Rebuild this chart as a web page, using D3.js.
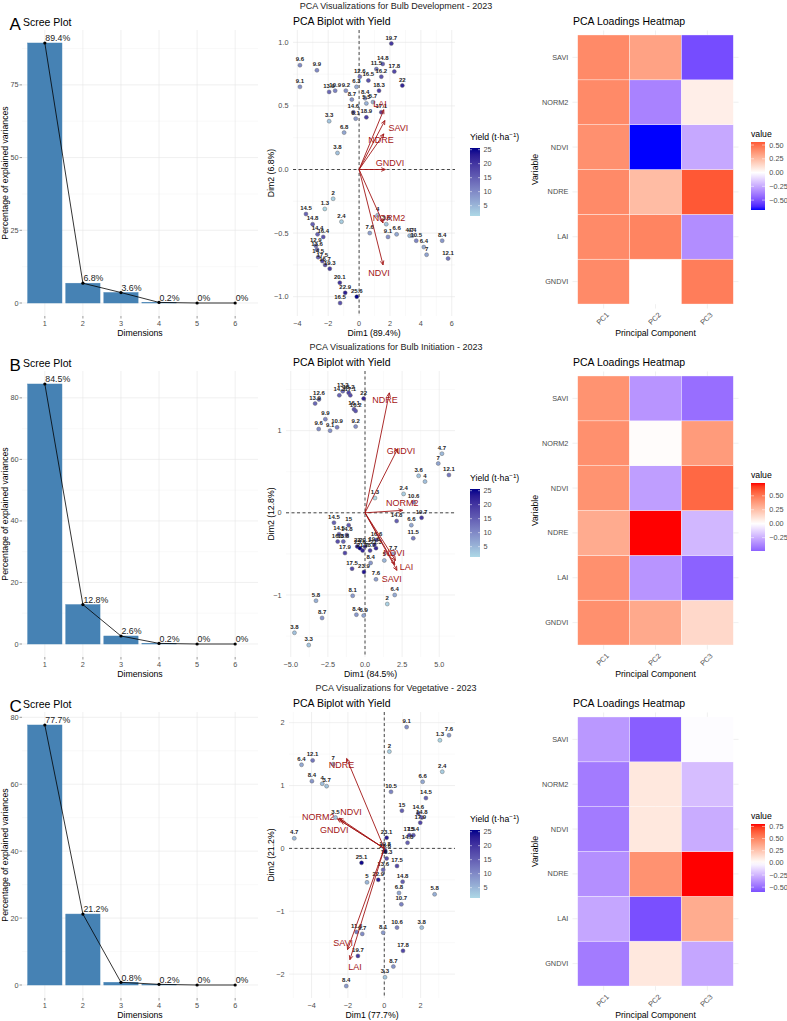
<!DOCTYPE html>
<html lang="en">
<head>
<meta charset="UTF-8">
<title>PCA Visualizations - 2023</title>
<script src="https://d3js.org/d3.v7.min.js"></script>
<style>
  body { margin: 0; background: #fff; }
  svg { display: block; font-family: "Liberation Sans", Arial, sans-serif; }
  .tick-label { fill: #4d4d4d; font-size: 7.3px; }
  .axis-title { fill: #000; font-size: 8.7px; }
  .panel-title { fill: #000; font-size: 10.5px; }
  .grid-major { stroke: #e6e6e6; stroke-width: 0.6; }
  .grid-minor { stroke: #f0f0f0; stroke-width: 0.4; }
</style>
</head>
<body>
<svg id="fig" width="787" height="1021"></svg>
<script>
// ---- data ----
const stageNames = ["Bulb Development", "Bulb Initiation", "Vegetative"];
const panelLetters = ["A", "B", "C"];
const dimensions = [1, 2, 3, 4, 5, 6];
const components = ["PC1", "PC2", "PC3"];
const variables = ["GNDVI", "LAI", "NDRE", "NDVI", "NORM2", "SAVI"]; // bottom -> top

// explained variance (%)
const screeBulbDev = [89.4, 6.8, 3.6, 0.2, 0, 0];
const screeBulbInit = [84.5, 12.8, 2.6, 0.2, 0, 0];
const screeVeg = [77.7, 21.2, 0.8, 0.2, 0, 0];
const screeTicksBulbDev = [0, 25, 50, 75];
const screeTicksOther = [0, 20, 40, 60, 80];

// individuals: [Dim1, Dim2, yield]
const scoresBulbDev = [
  [2.09,0.99,19.7],[-3.83,0.82,9.6],[-2.73,0.78,9.9],[1.53,0.83,14.8],[1.12,0.79,11.5],
  [2.28,0.77,17.8],[1.44,0.73,16.2],[0.6,0.70,16.5],[0.05,0.73,12.6],[-0.17,0.65,6.3],
  [-3.83,0.65,9.1],[-1.94,0.61,13.9],[-1.55,0.62,10.9],[-0.86,0.62,9.2],[1.29,0.62,18.3],
  [2.8,0.66,22],[-0.47,0.55,8.7],[0.39,0.56,8.4],[0.47,0.52,5.5],[0.9,0.53,5.7],
  [-0.37,0.45,14.6],[1.44,0.45,17.1],[-0.22,0.40,8.1],[0.47,0.41,18.9],[-1.94,0.38,3.3],
  [-0.97,0.29,6.8],[-1.4,0.13,3.8],[-1.68,-0.23,2],[-2.22,-0.31,1.3],[-1.14,-0.41,2.4],
  [-3.44,-0.35,14.5],[-3.01,-0.43,14.8],[-2.69,-0.51,14.4],[-2.32,-0.53,16.4],[-2.8,-0.60,12.9],
  [-2.72,-0.63,13.6],[-2.65,-0.69,14.5],[-2.38,-0.72,17.5],[-2.2,-0.75,16.7],[-1.9,-0.78,19.3],
  [-1.25,-0.89,20.1],[-0.9,-0.97,22.9],[-1.23,-1.05,16.5],[-0.15,-1.0,25.6],[1.2,-0.36,4],
  [1.76,-0.43,3.6],[0.69,-0.50,7.6],[1.87,-0.53,9.1],[2.43,-0.51,6.6],[3.27,-0.52,4.7],
  [3.44,-0.52,4.4],[3.7,-0.56,10.5],[5.38,-0.56,8.4],[4.19,-0.61,6.4],[4.37,-0.67,7],
  [5.76,-0.70,12.1]
];
const scoresBulbInit = [
  [-1.1,1.46,18.2],[-1.5,1.48,13.2],[-1.73,1.43,14.3],[-0.99,1.43,17.1],[-0.09,1.39,22],
  [-3.1,1.38,12.6],[-3.36,1.33,13.9],[-0.74,1.26,16.1],[-0.63,1.24,16.2],[-2.67,1.14,9.9],
  [-3.12,1.02,9.6],[-1.88,1.04,10.9],[-2.35,1.0,9.1],[-0.63,1.05,9.2],[5.18,0.72,4.7],
  [4.93,0.60,7],[5.65,0.46,12.1],[3.61,0.45,3.6],[4.04,0.38,4],[0.67,0.18,1.3],
  [2.6,0.23,2.4],[3.27,0.13,10.6],[3.81,-0.06,19.7],[2.13,-0.10,14.8],[3.12,-0.15,6.6],
  [3.25,-0.31,11.5],[-2.09,-0.12,14.5],[-1.1,-0.15,15],[-1.75,-0.26,14.5],[-1.23,-0.27,14.8],
  [-1.84,-0.35,16.8],[-1.46,-0.35,13.8],[-1.35,-0.49,17.9],[-0.52,-0.41,23],[-0.34,-0.43,25.6],
  [-0.16,-0.46,21.7],[0.0,-0.41,20.1],[0.34,-0.46,18.7],[0.63,-0.39,19.6],[0.78,-0.33,16.6],
  [0.74,-0.43,21.3],[0.38,-0.61,8.4],[1.3,-0.58,5],[1.9,-0.5,7.7],[-0.87,-0.68,17.5],
  [-0.07,-0.72,23.9],[0.74,-0.81,7.6],[2.0,-1.0,6.4],[1.5,-1.11,2],[-0.83,-1.01,8.1],
  [-3.3,-1.07,5.8],[-2.89,-1.28,8.7],[-0.58,-1.24,8.4],[-0.09,-1.25,6.9],[-4.75,-1.46,3.8],
  [-3.79,-1.61,3.3]
];
const scoresVeg = [
  [1.23,1.93,9.1],[3.56,1.80,7.6],[3.06,1.72,1.3],[0.28,1.54,2],[3.19,1.22,2.4],
  [-4.55,1.33,6.4],[-3.94,1.40,12.1],[-2.81,1.34,7],[-3.98,1.07,8.4],[-3.41,1.03,4],
  [-3.17,0.99,3.7],[2.11,1.06,6.6],[0.37,0.90,10.5],[2.29,0.80,14.5],[0.97,0.60,15],
  [1.87,0.56,14.6],[2.06,0.49,14.8],[1.98,0.41,17.9],[-2.68,0.49,3.5],[-4.95,0.16,4.7],
  [1.38,0.21,17.5],[1.6,0.21,15.4],[1.28,0.09,14.8],[0.13,0.17,23.1],[0.04,-0.03,19.8],
  [0.13,-0.16,16.3],[0.05,-0.05,25.6],[-1.25,-0.23,25.1],[0.70,-0.28,17.5],[-0.06,-0.34,13.6],
  [-0.33,-0.50,22.9],[1.01,-0.53,14.8],[-0.95,-0.54,5],[0.81,-0.71,6.8],[2.77,-0.73,5.8],
  [0.94,-0.89,10.7],[0.70,-1.26,10.6],[2.06,-1.26,3.8],[-0.06,-1.34,8.1],[-1.52,-1.33,11.6],
  [-1.21,-1.36,9.7],[1.03,-1.63,17.8],[-1.45,-1.71,19.7],[0.50,-1.88,8.7],[0.04,-2.05,3.3],
  [-2.09,-2.19,8.4]
];

// variable arrows: [name, tipDim1, tipDim2, labelDim1, labelDim2]
const arrowsBulbDev = [
  ["LAI",1.6,0.47,1.35,0.52],["SAVI",1.67,0.385,2.54,0.33],["NDRE",1.6,0.28,1.42,0.23],
  ["GNDVI",1.7,0.0,2.0,0.05],["NORM2",1.55,-0.42,1.94,-0.38],["NDVI",1.55,-0.75,1.29,-0.81]
];
const arrowsBulbInit = [
  ["NDRE",1.64,1.46,1.35,1.37],["GNDVI",2.2,0.78,2.42,0.76],["NORM2",2.53,0.03,2.51,0.12],
  ["NDVI",2.05,-0.58,1.95,-0.49],["LAI",2.15,-0.70,2.79,-0.66],["SAVI",2.0,-0.63,1.80,-0.80]
];
const arrowsVeg = [
  ["NDRE",-2.07,1.43,-2.35,1.33],["NDVI",-2.48,0.48,-1.83,0.58],["NORM2",-2.57,0.47,-3.63,0.50],
  ["GNDVI",-2.39,0.44,-2.75,0.30],["SAVI",-2.02,-1.61,-2.26,-1.51],["LAI",-1.89,-1.77,-1.61,-1.88]
];

// loadings, rows in `variables` order, columns PC1..PC3
const loadingsBulbDev = [
  [0.41, 0.00, 0.45],   // GNDVI
  [0.41, 0.43, -0.33],  // LAI
  [0.41, 0.24, 0.555],  // NDRE
  [0.39, -0.68, -0.25], // NDVI
  [0.41, -0.36, 0.06],  // NORM2
  [0.41, 0.33, -0.52]   // SAVI
];
const loadingsBulbInit = [
  [0.42, 0.33, 0.15],
  [0.42, -0.33, -0.49],
  [0.32, 0.73, -0.22],
  [0.41, -0.30, 0.55],
  [0.42, 0.01, 0.38],
  [0.41, -0.33, -0.45]
];
const loadingsVeg = [
  [-0.45, 0.10, -0.30],
  [-0.30, -0.60, 0.35],
  [-0.38, 0.45, 0.80],
  [-0.45, 0.10, -0.28],
  [-0.45, 0.10, -0.22],
  [-0.35, -0.55, -0.01]
];

// ---- layout ----
const svg = d3.select("#fig");
const rowOffsets = [0, 341, 682];
const FONT = "'Liberation Sans', Arial, sans-serif";
const arrowColor = "#a31515";

const stages = [
  { scree: screeBulbDev, screeTicks: screeTicksBulbDev, scores: scoresBulbDev, arrows: arrowsBulbDev,
    loadings: loadingsBulbDev, xDom: [-4.28, 6.21], yDom: [-1.152, 1.097], left: 293,
    xTicks: [-4, -2, 0, 2, 4, 6], yTicks: [-1, -0.5, 0, 0.5, 1], xFmt: d3.format("d"), yFmt: d3.format(".1f") },
  { scree: screeBulbInit, screeTicks: screeTicksOther, scores: scoresBulbInit, arrows: arrowsBulbInit,
    loadings: loadingsBulbInit, xDom: [-5.32, 6.06], yDom: [-1.755, 1.726], left: 286,
    xTicks: [-5, -2.5, 0, 2.5, 5], yTicks: [-1, 0, 1], xFmt: d3.format(".1f"), yFmt: d3.format("d") },
  { scree: screeVeg, screeTicks: screeTicksOther, scores: scoresVeg, arrows: arrowsVeg,
    loadings: loadingsVeg, xDom: [-5.24, 3.89], yDom: [-2.38, 2.17], left: 289,
    xTicks: [-4, -2, 0, 2], yTicks: [-2, -1, 0, 1, 2], xFmt: d3.format("d"), yFmt: d3.format("d") }
];

function minors(ticks, dom) {
  const step = ticks[1] - ticks[0];
  const out = [];
  for (let v = ticks[0] - step / 2; v <= ticks[ticks.length - 1] + step / 2 + 1e-9; v += step) {
    if (v >= dom[0] && v <= dom[1]) out.push(v);
  }
  return out;
}

function drawScree(g, values, yTicks) {
  const M = d3.max(values);
  const x = d3.scaleBand().domain(dimensions).range([22, 258]).paddingInner(0.1).paddingOuter(0.15);
  const y = d3.scaleLinear().domain([-0.05 * M, 1.05 * M]).range([316, 30]);
  const cx = d => x(d) + x.bandwidth() / 2;

  g.selectAll(null).data(minors(yTicks, y.domain())).join("line").attr("class", "grid-minor")
    .attr("x1", 22).attr("x2", 258).attr("y1", d => y(d)).attr("y2", d => y(d));
  g.selectAll(null).data(yTicks).join("line").attr("class", "grid-major")
    .attr("x1", 22).attr("x2", 258).attr("y1", d => y(d)).attr("y2", d => y(d));
  g.selectAll(null).data(dimensions).join("line").attr("class", "grid-major")
    .attr("x1", cx).attr("x2", cx).attr("y1", 30).attr("y2", 316);

  g.selectAll(null).data(values).join("rect")
    .attr("x", (d, i) => x(dimensions[i])).attr("width", x.bandwidth())
    .attr("y", d => y(d)).attr("height", d => y(0) - y(d))
    .attr("fill", "steelblue").attr("stroke", "steelblue").attr("stroke-width", 0.5);

  const line = d3.line().x((d, i) => cx(dimensions[i])).y(d => y(d));
  g.append("path").datum(values).attr("d", line).attr("fill", "none")
    .attr("stroke", "#000").attr("stroke-width", 0.8);
  g.selectAll(null).data(values).join("circle")
    .attr("cx", (d, i) => cx(dimensions[i])).attr("cy", d => y(d)).attr("r", 1.6).attr("fill", "#000");
  g.selectAll(null).data(values).join("text")
    .attr("x", (d, i) => cx(dimensions[i]) + 0.5).attr("y", d => y(d) - 1.8)
    .attr("font-size", 8.8).attr("fill", "#222").text(d => d + "%");

  // axes
  g.selectAll(null).data(yTicks).join("line")
    .attr("x1", 19.5).attr("x2", 22).attr("y1", d => y(d)).attr("y2", d => y(d))
    .attr("stroke", "#333").attr("stroke-width", 0.5);
  g.selectAll(null).data(yTicks).join("text").attr("class", "tick-label")
    .attr("x", 18.5).attr("y", d => y(d)).attr("dy", "0.35em").attr("text-anchor", "end").text(d => d);
  g.selectAll(null).data(dimensions).join("line")
    .attr("x1", cx).attr("x2", cx).attr("y1", 316).attr("y2", 318.5)
    .attr("stroke", "#333").attr("stroke-width", 0.5);
  g.selectAll(null).data(dimensions).join("text").attr("class", "tick-label")
    .attr("x", cx).attr("y", 326).attr("text-anchor", "middle").text(d => d);
  g.append("text").attr("class", "axis-title").attr("x", 140).attr("y", 336)
    .attr("text-anchor", "middle").text("Dimensions");
  g.append("text").attr("class", "axis-title").attr("transform", "translate(7.8,173) rotate(-90)")
    .attr("text-anchor", "middle").text("Percentage of explained variances");
}

function drawBiplot(g, st, idx) {
  const x = d3.scaleLinear().domain(st.xDom).range([st.left, 455]);
  const y = d3.scaleLinear().domain(st.yDom).range([316, 30]);
  const yields = st.scores.map(d => d[2]);
  const col = d3.scaleLinear().domain(d3.extent(yields)).range(["lightblue", "darkblue"])
    .interpolate(d3.interpolateLab);

  g.selectAll(null).data(minors(st.xTicks, st.xDom)).join("line").attr("class", "grid-minor")
    .attr("x1", d => x(d)).attr("x2", d => x(d)).attr("y1", 30).attr("y2", 316);
  g.selectAll(null).data(minors(st.yTicks, st.yDom)).join("line").attr("class", "grid-minor")
    .attr("x1", st.left).attr("x2", 455).attr("y1", d => y(d)).attr("y2", d => y(d));
  g.selectAll(null).data(st.xTicks).join("line").attr("class", "grid-major")
    .attr("x1", d => x(d)).attr("x2", d => x(d)).attr("y1", 30).attr("y2", 316);
  g.selectAll(null).data(st.yTicks).join("line").attr("class", "grid-major")
    .attr("x1", st.left).attr("x2", 455).attr("y1", d => y(d)).attr("y2", d => y(d));

  g.append("line").attr("x1", st.left).attr("x2", 455).attr("y1", y(0)).attr("y2", y(0))
    .attr("stroke", "#333").attr("stroke-width", 0.9).attr("stroke-dasharray", "3,2.5");
  g.append("line").attr("x1", x(0)).attr("x2", x(0)).attr("y1", 30).attr("y2", 316)
    .attr("stroke", "#333").attr("stroke-width", 0.9).attr("stroke-dasharray", "3,2.5");

  g.selectAll(null).data(st.scores).join("circle")
    .attr("cx", d => x(d[0])).attr("cy", d => y(d[1])).attr("r", 2)
    .attr("fill", d => col(d[2])).attr("stroke", "#666").attr("stroke-width", 0.45);
  g.selectAll(null).data(st.scores).join("text")
    .attr("x", d => x(d[0])).attr("y", d => y(d[1]) - 4).attr("text-anchor", "middle")
    .attr("font-size", 6).attr("font-weight", "bold").attr("fill", "#222").text(d => d[2]);

  // arrows
  const ah = 4.5, aa = Math.PI / 7.5;
  st.arrows.forEach(a => {
    const x0 = x(0), y0 = y(0), x1 = x(a[1]), y1 = y(a[2]);
    const ang = Math.atan2(y1 - y0, x1 - x0);
    g.append("line").attr("x1", x0).attr("y1", y0).attr("x2", x1).attr("y2", y1)
      .attr("stroke", arrowColor).attr("stroke-width", 0.9);
    const p1 = [x1 - ah * Math.cos(ang - aa), y1 - ah * Math.sin(ang - aa)];
    const p2 = [x1 - ah * Math.cos(ang + aa), y1 - ah * Math.sin(ang + aa)];
    g.append("path").attr("d", `M${p1}L${x1},${y1}L${p2}`).attr("fill", "none")
      .attr("stroke", arrowColor).attr("stroke-width", 0.9);
    g.append("text").attr("x", x(a[3])).attr("y", y(a[4])).attr("dy", "0.35em")
      .attr("text-anchor", "middle").attr("font-size", 9).attr("fill", arrowColor).text(a[0]);
  });

  // axes text
  g.selectAll(null).data(st.xTicks).join("text").attr("class", "tick-label")
    .attr("x", d => x(d)).attr("y", 325.5).attr("text-anchor", "middle").text(d => st.xFmt(d));
  g.selectAll(null).data(st.yTicks).join("text").attr("class", "tick-label")
    .attr("x", st.left - 4.5).attr("y", d => y(d)).attr("dy", "0.35em").attr("text-anchor", "end")
    .text(d => st.yFmt(d));
  g.append("text").attr("class", "axis-title").attr("x", (st.left + 455) / 2).attr("y", 336)
    .attr("text-anchor", "middle").text(`Dim1 (${st.scree[0]}%)`);
  g.append("text").attr("class", "axis-title").attr("transform", "translate(273.5,173) rotate(-90)")
    .attr("text-anchor", "middle").text(`Dim2 (${st.scree[1]}%)`);
  g.append("text").attr("class", "panel-title").attr("x", 293).attr("y", 24.5).text("PCA Biplot with Yield");

  // yield legend
  const ly = d3.scaleLinear().domain(col.domain()).range([216, 148]);
  const gid = "yieldGrad" + idx;
  const grad = svg.append("defs").append("linearGradient").attr("id", gid)
    .attr("x1", 0).attr("y1", 1).attr("x2", 0).attr("y2", 0);
  d3.range(11).forEach(k => {
    const v = col.domain()[0] + (col.domain()[1] - col.domain()[0]) * k / 10;
    grad.append("stop").attr("offset", k / 10).attr("stop-color", col(v));
  });
  g.append("rect").attr("x", 470).attr("y", 148).attr("width", 10).attr("height", 68)
    .attr("fill", `url(#${gid})`);
  const lt = [5, 10, 15, 20, 25];
  g.selectAll(null).data(lt).join("line").attr("x1", 470).attr("x2", 472).attr("y1", d => ly(d))
    .attr("y2", d => ly(d)).attr("stroke", "#fff").attr("stroke-width", 0.5);
  g.selectAll(null).data(lt).join("line").attr("x1", 478).attr("x2", 480).attr("y1", d => ly(d))
    .attr("y2", d => ly(d)).attr("stroke", "#fff").attr("stroke-width", 0.5);
  g.selectAll(null).data(lt).join("text").attr("class", "tick-label")
    .attr("x", 483.5).attr("y", d => ly(d)).attr("dy", "0.35em").text(d => d);
  const tt = g.append("text").attr("class", "axis-title").attr("x", 470).attr("y", 140);
  tt.append("tspan").text("Yield (t\u00b7ha");
  tt.append("tspan").attr("dy", -3).attr("font-size", 6.2).text("\u22121");
  tt.append("tspan").attr("dy", 3).text(")");
}

function drawHeatmap(g, loadings, idx) {
  const x = d3.scaleBand().domain(components).range([572.5, 738.5]).paddingOuter(0.1);
  const y = d3.scaleBand().domain(variables).range([308.5, 30.5]).paddingOuter(0.1);
  const flat = [];
  loadings.forEach((row, r) => row.forEach((v, c) => flat.push({ v, pc: components[c], vr: variables[r] })));
  const ext = d3.extent(flat, d => d.v);
  const m = d3.max(flat, d => Math.abs(d.v));
  const col = d3.scaleLinear().domain([-m, 0, m]).range(["blue", "white", "red"]).interpolate(d3.interpolateLab);

  g.selectAll(null).data(components).join("line").attr("class", "grid-major")
    .attr("x1", d => x(d) + x.bandwidth() / 2).attr("x2", d => x(d) + x.bandwidth() / 2)
    .attr("y1", 30.5).attr("y2", 308.5);
  g.selectAll(null).data(variables).join("line").attr("class", "grid-major")
    .attr("x1", 572.5).attr("x2", 738.5)
    .attr("y1", d => y(d) + y.bandwidth() / 2).attr("y2", d => y(d) + y.bandwidth() / 2);

  g.selectAll(null).data(flat).join("rect")
    .attr("x", d => x(d.pc)).attr("y", d => y(d.vr)).attr("width", x.bandwidth()).attr("height", y.bandwidth())
    .attr("fill", d => col(d.v)).attr("stroke", "#fff").attr("stroke-width", 0.5).attr("stroke-opacity", 0.7);

  g.selectAll(null).data(variables).join("text").attr("class", "tick-label")
    .attr("x", 568.3).attr("y", d => y(d) + y.bandwidth() / 2).attr("dy", "0.35em")
    .attr("text-anchor", "end").text(d => d);
  g.selectAll(null).data(components).join("text").attr("class", "tick-label")
    .attr("transform", d => `translate(${x(d) + x.bandwidth() / 2 + 4},${313.5}) rotate(-45)`)
    .attr("text-anchor", "end").attr("dy", "0.35em").text(d => d);
  g.append("text").attr("class", "axis-title").attr("x", 655.5).attr("y", 336)
    .attr("text-anchor", "middle").text("Principal Component");
  g.append("text").attr("class", "axis-title").attr("transform", "translate(537.5,169.5) rotate(-90)")
    .attr("text-anchor", "middle").text("Variable");
  g.append("text").attr("class", "panel-title").attr("x", 573).attr("y", 24.5).text("PCA Loadings Heatmap");

  // legend
  const ly = d3.scaleLinear().domain(ext).range([210, 142]);
  const gid = "loadGrad" + idx;
  const grad = svg.append("defs").append("linearGradient").attr("id", gid)
    .attr("x1", 0).attr("y1", 1).attr("x2", 0).attr("y2", 0);
  d3.range(21).forEach(k => {
    const v = ext[0] + (ext[1] - ext[0]) * k / 20;
    grad.append("stop").attr("offset", k / 20).attr("stop-color", col(v));
  });
  g.append("rect").attr("x", 751).attr("y", 142).attr("width", 14).attr("height", 68)
    .attr("fill", `url(#${gid})`);
  const lt = d3.range(Math.ceil(ext[0] / 0.25) * 0.25, ext[1] + 1e-9, 0.25);
  g.selectAll(null).data(lt).join("line").attr("x1", 751).attr("x2", 754).attr("y1", d => ly(d))
    .attr("y2", d => ly(d)).attr("stroke", "#fff").attr("stroke-width", 0.5);
  g.selectAll(null).data(lt).join("line").attr("x1", 762).attr("x2", 765).attr("y1", d => ly(d))
    .attr("y2", d => ly(d)).attr("stroke", "#fff").attr("stroke-width", 0.5);
  g.selectAll(null).data(lt).join("text").attr("class", "tick-label")
    .attr("x", 769.3).attr("y", d => ly(d)).attr("dy", "0.35em").text(d => d3.format(".2f")(d));
  g.append("text").attr("class", "axis-title").attr("x", 751).attr("y", 137).text("value");
}

stages.forEach((st, i) => {
  const row = svg.append("g").attr("transform", `translate(0,${rowOffsets[i]})`);
  row.append("text").attr("x", 396).attr("y", 9).attr("text-anchor", "middle")
    .attr("font-size", 9).attr("fill", "#222")
    .text(`PCA Visualizations for ${stageNames[i]} - 2023`);
  row.append("text").attr("x", 9.5).attr("y", 29.5).attr("font-size", 17).text(panelLetters[i]);
  row.append("text").attr("class", "panel-title").attr("x", 23).attr("y", 25.5).text("Scree Plot");
  drawScree(row.append("g"), st.scree, st.screeTicks);
  drawBiplot(row.append("g"), st, i);
  drawHeatmap(row.append("g"), st.loadings, i);
});
</script>
</body>
</html>
